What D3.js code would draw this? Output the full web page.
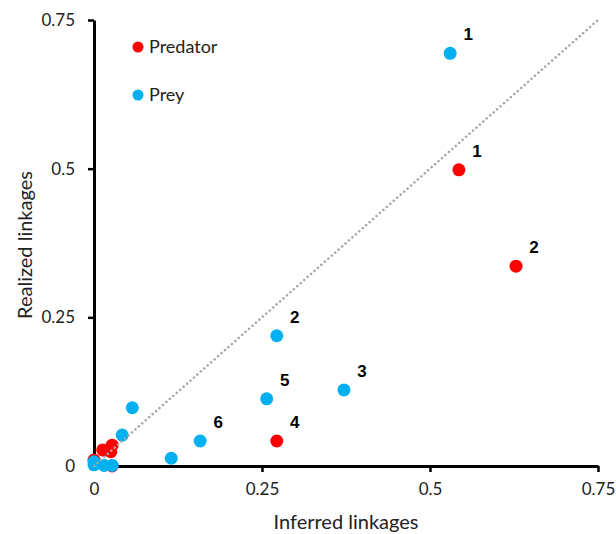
<!DOCTYPE html>
<html>
<head>
<meta charset="utf-8">
<script src="https://cdn.jsdelivr.net/npm/d3@7"></script>
<style>
  body { margin: 0; background: #fff; }
  text { font-family: Lato, "Open Sans", sans-serif; }
</style>
</head>
<body>
<div id="chart"></div>
<script>
// predator points (inferred, realized) and their labels
var predX = [0.543, 0.628, 0.272, 0.013, 0.027, 0.025, 0.000, 0.027];
var predY = [0.498, 0.336, 0.042, 0.027, 0.035, 0.024, 0.010, 0.000];
var predLabels = ["1", "2", "4", "", "", "", "", ""];

// prey points
var preyX = [0.530, 0.272, 0.372, 0.257, 0.158, 0.115, 0.057, 0.042, 0.000, 0.000, 0.015, 0.027];
var preyY = [0.694, 0.219, 0.128, 0.113, 0.042, 0.013, 0.098, 0.052, 0.007, 0.002, 0.001, 0.001];
var preyLabels = ["1", "2", "3", "5", "6", "", "", "", "", "", "", ""];

var tickValues = [0, 0.25, 0.5, 0.75];
var tickLabels = ["0", "0.25", "0.5", "0.75"];
var seriesNames = ["Predator", "Prey"];
var seriesColors = ["#ff0000", "#00b0f0"];

var width = 616, height = 534;
var margin = {top: 20, right: 18, bottom: 68, left: 94};

var x = d3.scaleLinear().domain([0, 0.75]).range([margin.left, width - margin.right]);
var y = d3.scaleLinear().domain([0, 0.75]).range([height - margin.bottom, margin.top]);

var svg = d3.select('#chart')
  .append('svg')
  .attr('width', width)
  .attr('height', height);

var fmt = function(d) { return tickLabels[tickValues.indexOf(d)]; };

var xAxis = svg.append('g')
  .attr('transform', 'translate(0,' + y(0) + ')')
  .call(d3.axisBottom(x).tickValues(tickValues).tickFormat(fmt).tickSize(6).tickSizeOuter(0).tickPadding(11));

var yAxis = svg.append('g')
  .attr('transform', 'translate(' + x(0) + ',0)')
  .call(d3.axisLeft(y).tickValues(tickValues).tickFormat(fmt).tickSize(6).tickSizeOuter(0).tickPadding(13));

[xAxis, yAxis].forEach(function(a) {
  a.select('.domain').attr('stroke', '#000').attr('stroke-width', 3);
  a.selectAll('.tick line').attr('stroke', '#000').attr('stroke-width', 2.5);
  a.selectAll('.tick text').attr('fill', '#222').style('font-size', '17px');
});
// the zero ticks sit on the other axis
xAxis.selectAll('.tick line').filter(function(d) { return d === 0; }).remove();
yAxis.selectAll('.tick line').filter(function(d) { return d === 0; }).remove();

// axis titles
svg.append('text')
  .attr('x', (x(0) + x(0.75)) / 2)
  .attr('y', 529)
  .attr('text-anchor', 'middle')
  .style('font-size', '20px')
  .attr('fill', '#222')
  .text('Inferred linkages');

svg.append('text')
  .attr('transform', 'translate(32,' + ((y(0) + y(0.75)) / 2 + 2) + ') rotate(-90)')
  .attr('text-anchor', 'middle')
  .style('font-size', '20px')
  .attr('fill', '#222')
  .text('Realized linkages');

var pred = predX.map(function(v, i) { return {x: v, y: predY[i], label: predLabels[i]}; });
var prey = preyX.map(function(v, i) { return {x: v, y: preyY[i], label: preyLabels[i]}; });

// points: predators below, prey on top
[pred, prey].forEach(function(data, k) {
  svg.append('g').selectAll('circle')
    .data(data)
    .enter()
    .append('circle')
    .attr('cx', function(d) { return x(d.x); })
    .attr('cy', function(d) { return y(d.y); })
    .attr('r', 6.5)
    .attr('fill', seriesColors[k]);

  svg.append('g').selectAll('text')
    .data(data.filter(function(d) { return d.label; }))
    .enter()
    .append('text')
    .attr('x', function(d) { return x(d.x) + 18; })
    .attr('y', function(d) { return y(d.y) - 13; })
    .attr('text-anchor', 'middle')
    .style('font-family', 'Liberation Sans, Arial, sans-serif')
    .style('font-weight', 'bold')
    .style('font-size', '17px')
    .text(function(d) { return d.label; });
});

// 1:1 dotted line drawn over the points
svg.append('line')
  .attr('x1', x(0)).attr('y1', y(0))
  .attr('x2', x(0.75)).attr('y2', y(0.75))
  .attr('stroke', '#a6a6a6')
  .attr('stroke-width', 2.5)
  .attr('stroke-linecap', 'round')
  .attr('stroke-dasharray', '0.1,4.5');

// legend
var legend = svg.append('g');
seriesNames.forEach(function(name, i) {
  var ly = 47 + i * 48;
  legend.append('circle')
    .attr('cx', 138).attr('cy', ly).attr('r', 5.5)
    .attr('fill', seriesColors[i]);
  legend.append('text')
    .attr('x', 149).attr('y', ly)
    .attr('dy', '0.36em')
    .style('font-size', '18px')
    .attr('fill', '#222')
    .text(name);
});
</script>
</body>
</html>
